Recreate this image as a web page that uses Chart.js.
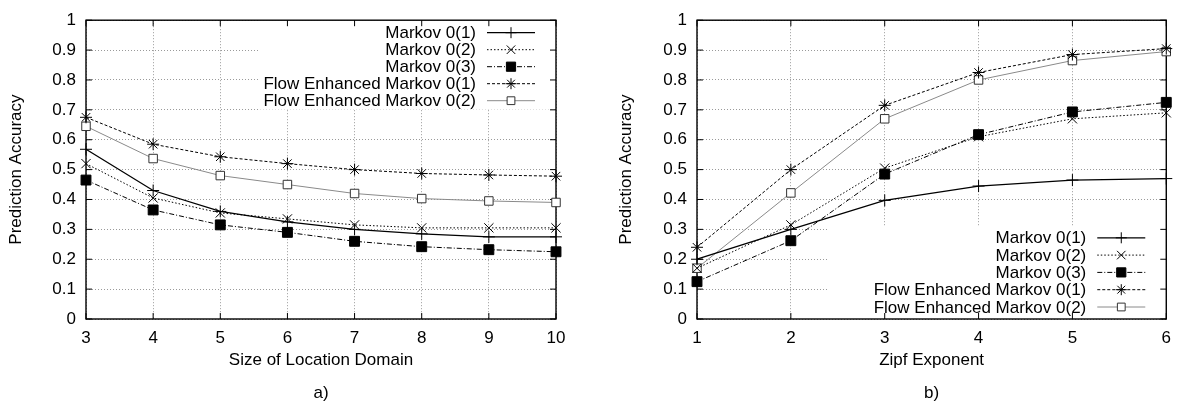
<!DOCTYPE html>
<html>
<head>
<meta charset="utf-8">
<script src="https://cdn.jsdelivr.net/npm/chart.js@4.4.1/dist/chart.umd.min.js"></script>
<style>
  body { margin: 0; background: #fff; }
  #wrap { position: relative; width: 1180px; height: 405px; }
  .pane { position: absolute; top: 0; width: 590px; height: 405px; }
</style>
</head>
<body>
<div id="wrap">
  <div class="pane" style="left:0"><canvas id="left" width="590" height="405"></canvas></div>
  <div class="pane" style="left:590px"><canvas id="right" width="590" height="405"></canvas></div>
</div>
<script>
// series names shared by both panels
const seriesNames = ["Markov 0(1)", "Markov 0(2)", "Markov 0(3)", "Flow Enhanced Markov 0(1)", "Flow Enhanced Markov 0(2)"]

// a) accuracy vs size of location domain
const domainSizes = [3, 4, 5, 6, 7, 8, 9, 10]
const domainMarkov1 = [0.568, 0.43, 0.36, 0.325, 0.30, 0.285, 0.275, 0.275]
const domainMarkov2 = [0.52, 0.405, 0.355, 0.335, 0.315, 0.305, 0.305, 0.305]
const domainMarkov3 = [0.465, 0.365, 0.315, 0.29, 0.26, 0.242, 0.232, 0.225]
const domainFlow1 = [0.675, 0.585, 0.543, 0.52, 0.50, 0.487, 0.482, 0.478]
const domainFlow2 = [0.645, 0.537, 0.48, 0.45, 0.42, 0.403, 0.395, 0.39]

// b) accuracy vs zipf exponent
const zipfExponents = [1, 2, 3, 4, 5, 6]
const zipfMarkov1 = [0.20, 0.30, 0.397, 0.445, 0.465, 0.47]
const zipfMarkov2 = [0.17, 0.315, 0.505, 0.61, 0.67, 0.69]
const zipfMarkov3 = [0.125, 0.262, 0.485, 0.617, 0.693, 0.725]
const zipfFlow1 = [0.24, 0.50, 0.715, 0.825, 0.885, 0.905]
const zipfFlow2 = [0.17, 0.422, 0.67, 0.80, 0.865, 0.895]

const accuracyMin = 0
const accuracyMax = 1
const accuracyStep = 0.1

const FONT = '"Liberation Sans", Arial, Helvetica, sans-serif'
const FS = 17

// gnuplot-ish line types, one per series
const seriesStyles = [
  { borderColor: "#000", borderDash: [], borderWidth: 1.3, pointStyle: "cross", pointRadius: 6, pointBackgroundColor: "#000", pointBorderColor: "#000" },
  { borderColor: "#000", borderDash: [1.5, 2], borderWidth: 1, pointStyle: "crossRot", pointRadius: 6.5, pointBackgroundColor: "#000", pointBorderColor: "#000" },
  { borderColor: "#000", borderDash: [5, 2, 1, 2], borderWidth: 1, pointStyle: "rect", pointRadius: 7, pointBackgroundColor: "#000", pointBorderColor: "#000" },
  { borderColor: "#000", borderDash: [3, 2], borderWidth: 1, pointStyle: "star", pointRadius: 6, pointBackgroundColor: "#000", pointBorderColor: "#000" },
  { borderColor: "#8a8a8a", borderDash: [], borderWidth: 1, pointStyle: "rect", pointRadius: 6, pointBackgroundColor: "#fff", pointBorderColor: "#333" }
]

function makeDatasets(xs, seriesList) {
  return seriesList.map((ys, i) => {
    const s = seriesStyles[i]
    return {
      label: seriesNames[i],
      data: xs.map((x, j) => ({ x: x, y: ys[j] })),
      borderColor: s.borderColor,
      borderDash: s.borderDash,
      borderWidth: s.borderWidth,
      pointStyle: s.pointStyle,
      pointRadius: s.pointRadius,
      pointBorderWidth: 1,
      pointBackgroundColor: s.pointBackgroundColor,
      pointBorderColor: s.pointBorderColor,
      tension: 0,
      clip: false
    }
  })
}

// key box + full frame + inward tick marks + panel caption
const gnuplotLook = {
  id: "gnuplotLook",
  beforeDatasetsDraw(chart, args, k) {
    const ctx = chart.ctx
    const a = chart.chartArea
    const sets = chart.data.datasets
    ctx.save()
    ctx.font = FS + "px " + FONT
    const textRight = a.right - k.textGap
    const widest = Math.max(...sets.map(d => ctx.measureText(d.label).width))
    const n = sets.length
    const firstY = k.anchor === "top" ? a.top + k.firstRow : a.bottom - k.firstRow - (n - 1) * k.rowStep
    const lastY = firstY + (n - 1) * k.rowStep
    const boxTop = k.anchor === "top" ? a.top : firstY - 11
    const boxBottom = k.anchor === "top" ? lastY + 9 : a.bottom
    const boxLeft = textRight - widest - k.boxPad
    ctx.fillStyle = "#fff"
    ctx.fillRect(boxLeft, boxTop, a.right - boxLeft, boxBottom - boxTop)

    sets.forEach((d, i) => {
      const y = firstY + i * k.rowStep
      ctx.fillStyle = "#000"
      ctx.textAlign = "right"
      ctx.textBaseline = "middle"
      ctx.fillText(d.label, textRight, y + 1)
      const x0 = a.right - k.sampleStart
      const x1 = a.right - k.sampleEnd
      ctx.beginPath()
      ctx.setLineDash(d.borderDash)
      ctx.strokeStyle = d.borderColor
      ctx.lineWidth = d.borderWidth
      ctx.moveTo(x0, y)
      ctx.lineTo(x1, y)
      ctx.stroke()
      ctx.setLineDash([])
      ctx.fillStyle = d.pointBackgroundColor
      ctx.strokeStyle = d.pointBorderColor
      ctx.lineWidth = 1
      Chart.helpers.drawPoint(ctx, { pointStyle: d.pointStyle, radius: d.pointRadius - 0.5, rotation: 0, borderWidth: 1 }, (x0 + x1) / 2, y)
    })

    // frame
    ctx.setLineDash([])
    ctx.strokeStyle = "#000"
    ctx.lineWidth = 1.4
    ctx.strokeRect(a.left, a.top, a.right - a.left, a.bottom - a.top)
    ctx.lineWidth = 1
    ctx.beginPath()
    chart.scales.x.ticks.forEach(t => {
      const px = chart.scales.x.getPixelForValue(t.value)
      ctx.moveTo(px, a.bottom); ctx.lineTo(px, a.bottom - 6)
      ctx.moveTo(px, a.top); ctx.lineTo(px, a.top + 6)
    })
    chart.scales.y.ticks.forEach(t => {
      const py = chart.scales.y.getPixelForValue(t.value)
      ctx.moveTo(a.left, py); ctx.lineTo(a.left + 6, py)
      ctx.moveTo(a.right, py); ctx.lineTo(a.right - 6, py)
    })
    ctx.stroke()

    // caption under the axis title
    ctx.fillStyle = "#000"
    ctx.textAlign = "center"
    ctx.textBaseline = "middle"
    ctx.fillText(k.caption, (a.left + a.right) / 2, k.captionY)
    ctx.restore()
  }
}

function makeChart(id, xs, seriesList, xTitle, opts) {
  return new Chart(document.getElementById(id), {
    type: "line",
    data: { datasets: makeDatasets(xs, seriesList) },
    plugins: [gnuplotLook],
    options: {
      responsive: false,
      animation: false,
      layout: { padding: { top: opts.padTop, right: opts.padRight, left: 0, bottom: 0 } },
      plugins: {
        legend: { display: false },
        tooltip: { enabled: false },
        gnuplotLook: opts.key
      },
      scales: {
        x: {
          type: "linear",
          min: xs[0],
          max: xs[xs.length - 1],
          ticks: { stepSize: 1, color: "#000", font: { family: FONT, size: FS }, padding: 9, maxRotation: 0 },
          grid: { color: "#9a9a9a", lineWidth: 1, drawTicks: false },
          border: { display: false, dash: [1, 2] },
          title: { display: true, text: xTitle, color: "#000", font: { family: FONT, size: FS }, padding: { bottom: 34 } },
          afterFit(scale) { scale.height = 405 - opts.plotBottom }
        },
        y: {
          min: accuracyMin,
          max: accuracyMax,
          ticks: {
            stepSize: accuracyStep, color: "#000", font: { family: FONT, size: FS }, padding: 10,
            callback: v => String(Math.round(v * 10) / 10)
          },
          grid: { color: "#9a9a9a", lineWidth: 1, drawTicks: false },
          border: { display: false, dash: [1, 2] },
          title: { display: true, text: "Prediction Accuracy", color: "#000", font: { family: FONT, size: FS }, padding: { top: opts.yTitlePad } },
          afterFit(scale) { scale.width = opts.yWidth }
        }
      }
    }
  })
}

makeChart("left", domainSizes,
  [domainMarkov1, domainMarkov2, domainMarkov3, domainFlow1, domainFlow2],
  "Size of Location Domain",
  { padTop: 16, padRight: 34, plotBottom: 319, yWidth: 86, yTitlePad: 6,
    key: { anchor: "top", firstRow: 12.5, rowStep: 17, textGap: 80, sampleStart: 69, sampleEnd: 21, boxPad: 4, caption: "a)", captionY: 393 } })

makeChart("right", zipfExponents,
  [zipfMarkov1, zipfMarkov2, zipfMarkov3, zipfFlow1, zipfFlow2],
  "Zipf Exponent",
  { padTop: 13, padRight: 9, plotBottom: 319, yWidth: 107, yTitlePad: 26,
    key: { anchor: "bottom", firstRow: 12, rowStep: 17.3, textGap: 80, sampleStart: 69, sampleEnd: 21, boxPad: 45, caption: "b)", captionY: 393 } })
</script>
</body>
</html>
